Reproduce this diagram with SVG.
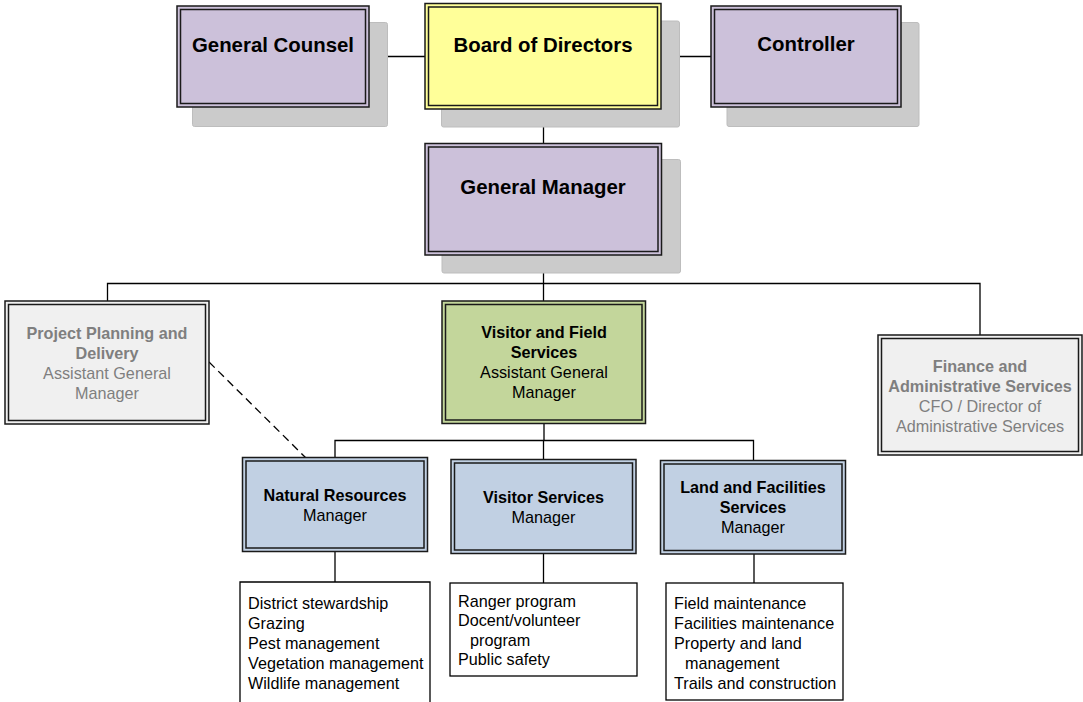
<svg xmlns="http://www.w3.org/2000/svg" width="1083" height="702" viewBox="0 0 1083 702">
<defs>
<style>
.sh{fill:#cbcbcb;stroke:#bdbdbd;stroke-width:1}
.o{stroke:#1a1a1a;stroke-width:1.5}
.i{fill:none;stroke:#1a1a1a;stroke-width:1.5}
.p{fill:#ccc1da}
.y{fill:#ffff99}
.g{fill:#c3d69b}
.b{fill:#c1d0e3}
.gr{fill:#f0f0f0}
.t20{font-family:"Liberation Sans",Arial,sans-serif;font-size:20.4px;font-weight:bold;fill:#000;text-anchor:middle}
.tb{font-family:"Liberation Sans",Arial,sans-serif;font-size:16.2px;font-weight:bold;fill:#000;text-anchor:middle}
.tn{font-family:"Liberation Sans",Arial,sans-serif;font-size:16.2px;fill:#000;text-anchor:middle}
.gt{fill:#7f7f7f}
.lt{font-family:"Liberation Sans",Arial,sans-serif;font-size:16.2px;fill:#000}
.ln{fill:none;stroke:#000;stroke-width:1.3}
.lb{fill:#fff;stroke:#000;stroke-width:1.3}
</style>
</defs>

<g id="connectors">
<line class="ln" x1="369" y1="56.5" x2="425" y2="56.5"/>
<line class="ln" x1="661" y1="56.5" x2="711" y2="56.5"/>
<line class="ln" x1="543.5" y1="109" x2="543.5" y2="143"/>
<line class="ln" x1="543.5" y1="255" x2="543.5" y2="301"/>
<polyline class="ln" points="107.5,301 107.5,283.5 980,283.5 980,335"/>
<line class="ln" x1="544" y1="423" x2="544" y2="441"/>
<polyline class="ln" points="335,458 335,440.5 753.5,440.5 753.5,460"/>
<line class="ln" x1="543.5" y1="440.5" x2="543.5" y2="459"/>
<line class="ln" x1="209" y1="362" x2="306" y2="458" stroke-dasharray="8,5"/>
<line class="ln" x1="335" y1="552" x2="335" y2="582"/>
<line class="ln" x1="543.5" y1="553" x2="543.5" y2="583"/>
<line class="ln" x1="754" y1="554" x2="754" y2="583"/>
</g>

<g id="general-counsel">
<rect class="sh" x="192.5" y="22.5" width="195" height="104" rx="2"/>
<rect class="o p" x="177" y="6" width="192" height="101"/>
<rect class="i" x="180.5" y="9.5" width="185" height="94"/>
<text class="t20" x="273" y="52">General Counsel</text>
</g>

<g id="board-of-directors">
<rect class="sh" x="441.5" y="21" width="238" height="106" rx="2"/>
<rect class="o y" x="425" y="3.5" width="236" height="105.5"/>
<rect class="i" x="428.5" y="7" width="229" height="98.5"/>
<text class="t20" x="543" y="52">Board of Directors</text>
</g>

<g id="controller">
<rect class="sh" x="727" y="22.5" width="192" height="104" rx="2"/>
<rect class="o p" x="711" y="6" width="190" height="101"/>
<rect class="i" x="714.5" y="9.5" width="183" height="94"/>
<text class="t20" x="806" y="51">Controller</text>
</g>

<g id="general-manager">
<rect class="sh" x="442" y="159.5" width="238.5" height="113.5" rx="2"/>
<rect class="o p" x="425" y="143.5" width="236.5" height="111.5"/>
<rect class="i" x="428.5" y="147" width="229.5" height="104.5"/>
<text class="t20" x="543" y="194">General Manager</text>
</g>

<g id="project-planning">
<rect class="o gr" x="5" y="301" width="204" height="123"/>
<rect class="i" x="8.5" y="304.5" width="197" height="116"/>
<text class="tb gt" x="107" y="338.5">Project Planning and</text>
<text class="tb gt" x="107" y="358.5">Delivery</text>
<text class="tn gt" x="107" y="378.5">Assistant General</text>
<text class="tn gt" x="107" y="398.5">Manager</text>
</g>

<g id="visitor-field-services">
<rect class="o g" x="442" y="301" width="203.5" height="122.5"/>
<rect class="i" x="445.5" y="304.5" width="196.5" height="115.5"/>
<text class="tb" x="544" y="338">Visitor and Field</text>
<text class="tb" x="544" y="358">Services</text>
<text class="tn" x="544" y="378">Assistant General</text>
<text class="tn" x="544" y="398">Manager</text>
</g>

<g id="finance-admin">
<rect class="o gr" x="878" y="335" width="204" height="120"/>
<rect class="i" x="881.5" y="338.5" width="197" height="113"/>
<text class="tb gt" x="980" y="371.5">Finance and</text>
<text class="tb gt" x="980" y="391.5">Administrative Services</text>
<text class="tn gt" x="980" y="411.5">CFO / Director of</text>
<text class="tn gt" x="980" y="431.5">Administrative Services</text>
</g>

<g id="natural-resources">
<rect class="o b" x="242.5" y="457.5" width="185" height="94"/>
<rect class="i" x="246" y="461" width="178" height="87"/>
<text class="tb" x="335" y="500.5">Natural Resources</text>
<text class="tn" x="335" y="520.5">Manager</text>
</g>

<g id="visitor-services">
<rect class="o b" x="451" y="459.5" width="185" height="94"/>
<rect class="i" x="454.5" y="463" width="178" height="87"/>
<text class="tb" x="543.5" y="502.5">Visitor Services</text>
<text class="tn" x="543.5" y="522.5">Manager</text>
</g>

<g id="land-facilities">
<rect class="o b" x="660.5" y="460.5" width="185" height="93.5"/>
<rect class="i" x="664" y="464" width="178" height="86.5"/>
<text class="tb" x="753" y="492.5">Land and Facilities</text>
<text class="tb" x="753" y="512.5">Services</text>
<text class="tn" x="753" y="532.5">Manager</text>
</g>

<g id="nr-list">
<path class="lb" d="M240,710 V582 H430 V710"/>
<text class="lt" x="248" y="609">District stewardship</text>
<text class="lt" x="248" y="629">Grazing</text>
<text class="lt" x="248" y="649">Pest management</text>
<text class="lt" x="248" y="669">Vegetation management</text>
<text class="lt" x="248" y="689">Wildlife management</text>
</g>

<g id="vs-list">
<rect class="lb" x="450" y="583" width="187" height="93"/>
<text class="lt" x="458" y="606.5">Ranger program</text>
<text class="lt" x="458" y="626">Docent/volunteer</text>
<text class="lt" x="470" y="646">program</text>
<text class="lt" x="458" y="665">Public safety</text>
</g>

<g id="lf-list">
<rect class="lb" x="666" y="583" width="177" height="117"/>
<text class="lt" x="674" y="609">Field maintenance</text>
<text class="lt" x="674" y="628.5">Facilities maintenance</text>
<text class="lt" x="674" y="648.5">Property and land</text>
<text class="lt" x="685" y="668.5">management</text>
<text class="lt" x="674" y="688.5">Trails and construction</text>
</g>
</svg>
